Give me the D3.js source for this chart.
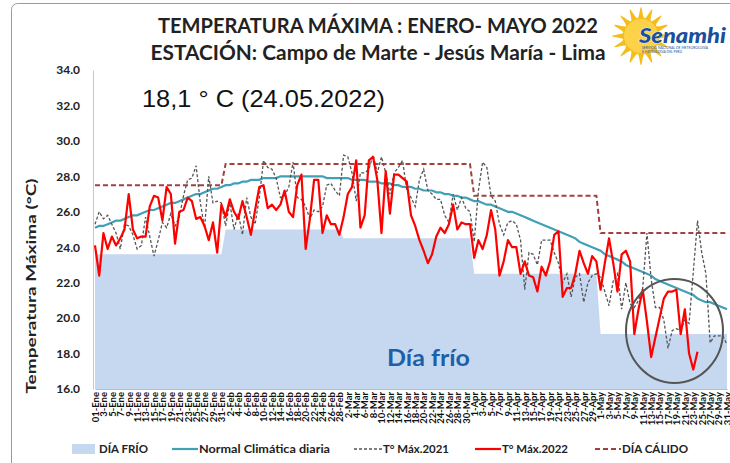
<!doctype html>
<html>
<head>
<meta charset="utf-8">
<script src="https://cdn.jsdelivr.net/npm/d3@7"></script>
<style>
  body { margin: 0; background: #fff; }
  svg { display: block; font-family: Lato, "Open Sans", sans-serif; }
</style>
</head>
<body>
<svg id="chart" width="730" height="463"></svg>
<script>
// meses y umbrales mensuales
var meses = ["Ene", "Feb", "Mar", "Apr", "May"];
var diasMes = [31, 28, 31, 30, 31];
var diaFrioMes = [23.6, 25.0, 24.5, 22.5, 19.1];
var diaCalidoMes = [27.5, 28.7, 28.7, 26.9, 24.8];

// normal climatica diaria (01 ene - 31 may)
var normal = [
  25.1,25.2,25.2,25.3,25.4,25.5,25.5,25.6,25.7,25.8,25.8,25.9,26.0,26.1,26.1,26.2,26.3,26.4,26.5,26.5,26.6,26.7,26.8,26.9,27.0,27.0,27.1,27.2,27.3,27.3,27.4,
  27.5,27.5,27.6,27.6,27.7,27.7,27.8,27.8,27.8,27.9,27.9,27.9,27.9,28.0,28.0,28.0,28.0,28.0,28.0,28.0,28.0,28.0,28.0,28.0,27.9,27.9,27.9,27.9,
  27.9,27.9,27.8,27.8,27.8,27.8,27.7,27.7,27.7,27.6,27.6,27.6,27.5,27.5,27.4,27.4,27.4,27.3,27.3,27.2,27.2,27.2,27.1,27.1,27.0,27.0,26.9,26.9,26.8,26.8,26.7,
  26.6,26.6,26.5,26.4,26.4,26.3,26.2,26.1,26.0,26.0,25.9,25.8,25.7,25.6,25.5,25.4,25.3,25.2,25.1,25.0,24.9,24.8,24.7,24.6,24.5,24.3,24.2,24.1,24.0,23.9,
  23.8,23.6,23.5,23.4,23.3,23.2,23.0,22.9,22.8,22.7,22.6,22.5,22.4,22.2,22.1,22.0,21.9,21.8,21.7,21.6,21.5,21.4,21.3,21.1,21.0,20.9,20.9,20.8,20.7,20.6,20.5
];

var tmax2021 = [
  25.3,26.0,25.6,25.8,25.3,24.8,23.9,25.3,25.2,24.7,
  23.9,24.1,25.7,24.6,23.5,24.4,25.4,25.1,25.9,25.2,
  25.7,26.9,27.8,27.9,28.6,26.5,25.1,28.0,26.5,26.6,
  26.5,25.2,26.5,25.0,25.9,24.7,26.8,25.7,25.3,26.8,
  28.9,28.5,28.4,27.9,26.8,26.9,27.4,28.8,26.8,26.7,
  26.3,25.6,26.1,26.0,26.3,27.5,27.6,27.2,26.9,29.2,
  29.1,28.2,26.6,28.2,28.2,28.4,29.2,28.2,29.1,28.2,
  27.0,28.2,28.5,28.9,27.2,26.8,26.3,27.8,28.4,27.2,
  27.0,26.7,26.7,25.8,25.4,27.0,26.1,26.8,26.2,26.0,
  24.3,27.2,28.8,28.5,26.9,26.6,25.3,24.7,25.4,25.5,
  25.3,24.4,21.6,23.7,23.6,23.0,24.4,24.4,24.4,23.7,
  23.1,22.0,22.5,21.2,22.3,22.5,20.9,22.0,22.4,22.5,
  22.3,21.5,20.7,22.1,22.5,20.5,22.0,20.8,20.6,21.0,
  21.7,24.8,22.2,20.6,20.6,19.9,18.3,19.3,19.4,19.3,
  19.9,19.7,22.6,25.5,23.7,22.5,18.6,19.0,19.0,19.0,18.5
];

var tmax2022 = [
  24.1,22.4,24.8,23.9,24.6,24.1,24.5,25.0,27.0,25.0,
  24.5,24.6,24.6,26.3,26.9,26.8,25.5,27.4,27.0,24.2,
  26.0,26.1,26.8,26.6,25.6,25.7,25.2,24.4,25.4,23.7,
  26.4,25.7,26.7,26.0,25.6,26.6,25.7,24.7,26.1,27.4,
  27.5,26.2,26.4,26.1,26.4,27.2,26.0,25.7,27.5,28.1,
  23.9,25.6,27.8,27.8,24.8,25.8,25.3,25.3,24.7,25.7,
  27.0,27.4,28.9,25.1,25.8,28.9,29.1,27.8,24.8,28.3,
  25.9,28.1,28.1,27.9,27.7,25.8,25.2,24.4,23.8,23.1,
  23.6,24.6,25.1,24.8,25.3,26.4,25.0,25.4,25.3,25.3,
  23.4,24.4,23.9,24.7,26.1,25.0,22.4,23.2,24.4,24.0,
  24.0,22.5,23.2,22.4,22.3,21.5,22.9,22.4,23.2,24.7,
  24.9,21.2,21.7,21.7,22.5,23.8,23.1,22.5,23.5,23.2,
  21.6,23.1,24.5,23.1,21.5,23.6,23.8,23.2,19.1,20.5,
  21.6,19.8,17.8,18.9,20.0,21.1,21.5,21.5,21.6,19.1,
  20.5,18.0,17.1,18.1
];

var yTicks = [16, 18, 20, 22, 24, 26, 28, 30, 32, 34];

// fechas y umbrales diarios
var fechas = [], diaFrio = [], diaCalido = [];
meses.forEach(function(m, k) {
  for (var d = 1; d <= diasMes[k]; d++) {
    fechas.push((k == 0 && d == 1 ? "01" : d) + "-" + m);
    diaFrio.push(diaFrioMes[k]);
    diaCalido.push(diaCalidoMes[k]);
  }
});

var svg = d3.select("#chart");

// marco
svg.append("rect").attr("x", 11.5).attr("y", 3.5).attr("width", 740).attr("height", 480)
  .attr("rx", 6).attr("fill", "none").attr("stroke", "#9a9a9a");

var x = d3.scalePoint().domain(d3.range(fechas.length)).range([95, 727]);
var y = d3.scaleLinear().domain([16, 34]).range([389, 70]);

// area dia frio
svg.append("path").datum(diaFrio)
  .attr("fill", "#c6d8f0")
  .attr("d", d3.area().x((d, i) => x(i)).y0(y(16)).y1(d => y(d)));

var linea = d3.line().x((d, i) => x(i)).y(d => y(d));

svg.append("path").datum(diaCalido).attr("d", linea)
  .attr("fill", "none").attr("stroke", "#a4403d").attr("stroke-width", 2)
  .attr("stroke-dasharray", "5,3");

svg.append("path").datum(normal).attr("d", linea)
  .attr("fill", "none").attr("stroke", "#41a0b6").attr("stroke-width", 2.2);

svg.append("path").datum(tmax2021).attr("d", linea)
  .attr("fill", "none").attr("stroke", "#555").attr("stroke-width", 1.3)
  .attr("stroke-dasharray", "3,2");

svg.append("path").datum(tmax2022).attr("d", linea)
  .attr("fill", "none").attr("stroke", "#ff0000").attr("stroke-width", 2.2)
  .attr("stroke-linejoin", "round");

// ejes
var gy = svg.append("g").attr("transform", "translate(93,0)")
  .call(d3.axisLeft(y).tickValues(yTicks).tickFormat(d3.format(".1f")).tickSize(0).tickPadding(13));
gy.select(".domain").attr("stroke", "#c8c8c8");
gy.selectAll("text").attr("font-size", 12).attr("font-weight", "bold").attr("fill", "#222")
  .attr("font-family", "Lato, sans-serif");

var gx = svg.append("g").attr("transform", "translate(0,389)")
  .call(d3.axisBottom(x).tickValues(d3.range(0, fechas.length, 2)).tickFormat(i => fechas[i]).tickSize(0));
gx.select(".domain").attr("stroke", "#bdbdbd");
gx.selectAll("text")
  .attr("transform", "rotate(-90)").attr("x", -3).attr("y", 0).attr("dy", "0.35em")
  .attr("text-anchor", "end").attr("font-size", 9.5).attr("font-weight", "bold")
  .attr("fill", "#111").attr("font-family", "Lato, sans-serif");

svg.append("text").attr("transform", "translate(36,286) rotate(-90)")
  .attr("text-anchor", "middle").attr("font-size", 14).attr("font-weight", "bold").attr("fill", "#222")
  .attr("textLength", 215).attr("lengthAdjust", "spacingAndGlyphs")
  .text("Temperatura Máxima (°C)");

// titulos
svg.append("text").attr("x", 378).attr("y", 33).attr("text-anchor", "middle")
  .attr("font-size", 20).attr("font-weight", "bold").attr("fill", "#222")
  .attr("textLength", 440).attr("lengthAdjust", "spacingAndGlyphs")
  .text("TEMPERATURA MÁXIMA : ENERO- MAYO 2022");
svg.append("text").attr("x", 378).attr("y", 60).attr("text-anchor", "middle")
  .attr("font-size", 20).attr("font-weight", "bold").attr("fill", "#222")
  .attr("textLength", 455).attr("lengthAdjust", "spacingAndGlyphs")
  .text("ESTACIÓN: Campo de Marte - Jesús María - Lima");

svg.append("text").attr("x", 142).attr("y", 107)
  .attr("font-size", 24).attr("fill", "#111").attr("font-family", "'Liberation Sans', Arial, sans-serif")
  .attr("textLength", 243).attr("lengthAdjust", "spacingAndGlyphs")
  .text("18,1 ° C (24.05.2022)");

svg.append("text").attr("x", 387).attr("y", 366)
  .attr("font-size", 22).attr("font-weight", "bold").attr("fill", "#1d5fa9")
  .attr("textLength", 83).attr("lengthAdjust", "spacingAndGlyphs")
  .text("Día frío");

svg.append("ellipse").attr("cx", 674.5).attr("cy", 331).attr("rx", 48.5).attr("ry", 52)
  .attr("fill", "none").attr("stroke", "#555").attr("stroke-width", 2);

// logo senamhi
var logo = svg.append("g").attr("transform", "translate(641,36)");
var rayos = [];
for (var k = 0; k < 32; k++) {
  var a = k * Math.PI / 16, r = k % 2 ? 18 : 29;
  rayos.push([r * Math.cos(a), r * Math.sin(a)]);
}
logo.append("path").attr("d", d3.line().curve(d3.curveCardinalClosed)(rayos)).attr("fill", "#f6bd1a");
logo.append("circle").attr("r", 17).attr("fill", "#fcd248");
logo.append("text").attr("x", -2).attr("y", 7).attr("font-size", 21).attr("font-weight", "900")
  .attr("font-style", "italic").attr("fill", "#1a4f9e").attr("stroke", "#fff").attr("stroke-width", 0.6)
  .attr("paint-order", "stroke").attr("textLength", 87).attr("lengthAdjust", "spacingAndGlyphs")
  .text("Senamhi");
logo.append("text").attr("x", 1).attr("y", 13).attr("font-size", 3.4).attr("fill", "#1a4f9e")
  .text("SERVICIO NACIONAL DE METEOROLOGÍA");
logo.append("text").attr("x", 1).attr("y", 17).attr("font-size", 3.4).attr("fill", "#1a4f9e")
  .text("E HIDROLOGÍA DEL PERÚ");

// leyenda
var ly = 449;
var leyenda = svg.append("g").attr("font-size", 11.5).attr("font-weight", "bold").attr("fill", "#222");
leyenda.append("rect").attr("x", 72).attr("y", ly - 5).attr("width", 23).attr("height", 10).attr("fill", "#c6d8f0");
leyenda.append("line").attr("x1", 172).attr("x2", 198).attr("y1", ly).attr("y2", ly)
  .attr("stroke", "#41a0b6").attr("stroke-width", 2.2);
leyenda.append("line").attr("x1", 354).attr("x2", 382).attr("y1", ly).attr("y2", ly)
  .attr("stroke", "#555").attr("stroke-width", 1.3).attr("stroke-dasharray", "3,2");
leyenda.append("line").attr("x1", 475).attr("x2", 501).attr("y1", ly).attr("y2", ly)
  .attr("stroke", "#ff0000").attr("stroke-width", 2.2);
leyenda.append("line").attr("x1", 595).attr("x2", 621).attr("y1", ly).attr("y2", ly)
  .attr("stroke", "#a4403d").attr("stroke-width", 2).attr("stroke-dasharray", "5,3");
[["DÍA FRÍO", 99, 49], ["Normal Climática diaria", 199, 131], ["T° Máx.2021", 383, 66],
 ["T° Máx.2022", 502, 66], ["DÍA CÁLIDO", 622, 66]].forEach(function(t) {
  leyenda.append("text").attr("x", t[1]).attr("y", ly + 4).attr("textLength", t[2])
    .attr("lengthAdjust", "spacingAndGlyphs").text(t[0]);
});
</script>
</body>
</html>
